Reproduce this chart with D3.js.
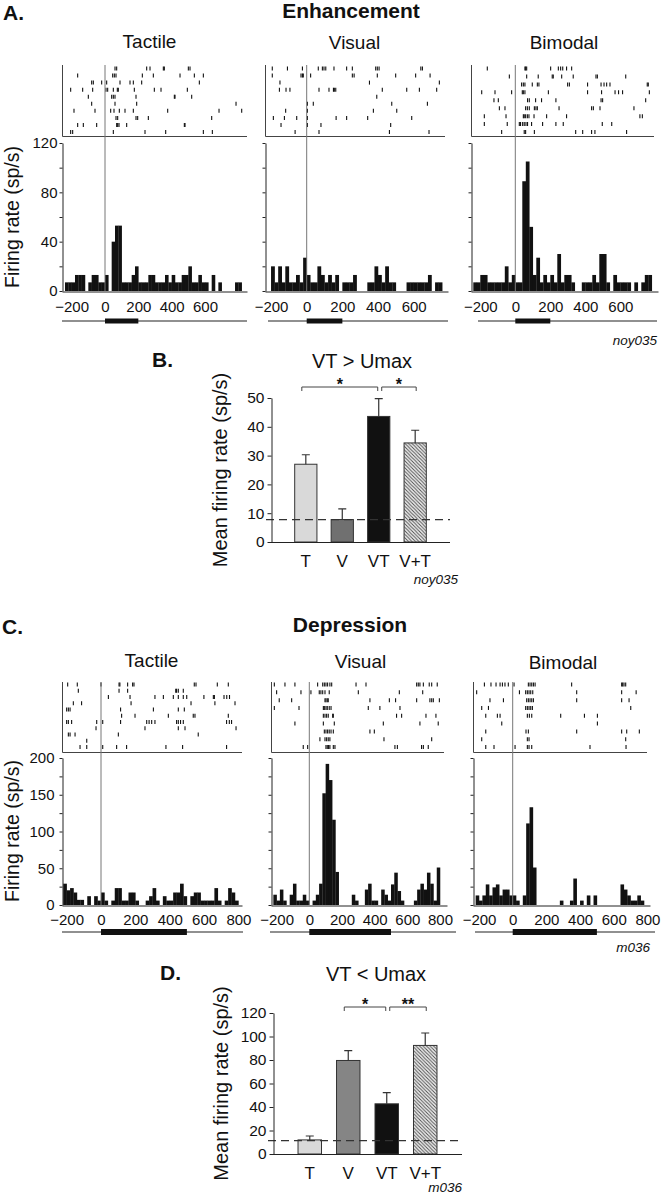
<!DOCTYPE html>
<html><head><meta charset="utf-8">
<script src="https://cdn.jsdelivr.net/npm/d3@7"></script>
<style>body{margin:0;background:#fff}svg{display:block}</style>
</head><body><svg id="fig" width="665" height="1199"></svg>
<script>
// ---------------- DATA ----------------
const BIN_W = 20;                       // ms per histogram bin
const binStartA = -240;                 // first bin (ms), panel A
const binStartC = -220;                 // first bin (ms), panel C
const xTicksA = [-200, 0, 200, 400, 600];
const xTicksC = [-200, 0, 200, 400, 600, 800];
const yLabelsA = [0, 40, 80, 120];
const yLabelsC = [0, 50, 100, 150, 200];
const modalities = ["Tactile", "Visual", "Bimodal"];

// PSTH values (sp/s), panel A (Enhancement)
const tactileA = [7,7,7,13,13,13,0,7,13,13,7,7, 13,0,40,53,53,
  7,7,7,13,20,7,7,7,13,13, 7,7,7,13,7,13,7,7,13,13, 20,7,7,13,7,7,0,13,0,7, 0,0,0,0,7,7];
const visualA = [0,0,20,7,20,7,20,7,7,13,7,27, 13,7,7,20,13,7,13,7,13,0,
  7,7,7,13,0,0,0,7,7,20, 13,7,20,7,7,0,0,0,7,7, 7,7,7,7,13,0,7,7,0,0,0];
const bimodalA = [7,7,13,13,7,7,7,7,7,20,7,13, 7,7,89,105,52,13,27,7,13,7,
  13,7,30,7,13,13,7,0,0,7, 7,7,13,7,30,30,7,0,13,7, 7,7,7,0,7,0,7,13,13,0,0];

// PSTH values (sp/s), panel C (Depression)
const tactileC = [29,20,23,17,7,7,0,12,0,12,6, 17,6,0,6,23,23,6,6,17,17,
  6,0,0,6,12,23,6,0,12,6, 6,17,17,29,12,0,12,17,17,6, 6,6,6,23,6,0,6,23,17,6,0];
const visualC = [14,6,21,6,0,14,29,6,6,14,6, 0,6,14,29,152,192,170,116,45,0,
  0,0,0,14,6,0,0,21,29,6, 6,0,21,14,6,28,44,19,6,0, 0,0,6,21,29,21,44,29,6,51,0];
const bimodalC = [13,6,13,28,13,24,28,13,21,21,13, 13,6,0,13,111,133,51,0,0,0,
  0,0,0,0,6,0,0,6,36,0, 6,0,13,0,13,0,0,0,0,0, 0,0,28,21,13,6,6,13,6,0,0];

// Raster spike times (ms), one array per trial
const rasterTactileA = [
  [60,70,250,270,350,356,500,510],
  [-164,46,56,66,224,290,450,536,590],
  [-80,-70,-20,10,90,150,170,220,566],
  [-206,-134,-74,6,16,50,74,80,176,296,336,494],
  [-100,40,50,60,186,416,420,520],
  [-80,60,190,786],
  [-186,-60,34,54,86,120,170,376,684,820],
  [66,76,186,196,260,640],
  [-164,-130,-50,70,76,84,130,476,480],
  [-206,-194,50,240,364,590,644]];
const rasterVisualA = [
  [-193,-108,-24,65,88,97,107,153,224,256,387,396,406,640,649],
  [-193,-32,-24,-19,22,256,266,396,499,611,692],
  [-150,352,744],
  [-153,-116,-94,69,125,150,155,163,424,561,632,729],
  [393],
  [4,37,477,677],
  [-118,4,374,505],
  [-187,-125,-56,4,165,224,342,589],
  [-144,4,80,471],
  [-65,69,464,686]];
const rasterBimodalA = [
  [-160,55,59,65,202,246,259,271,293,322],
  [-34,65,131,211,217,265,331,461,469,631],
  [36,46,55,97,126,135,299,309,413,490,507,522,541,754,760],
  [-192,-116,-21,40,46,55,189,413,493,570,590,613,766],
  [-122,-97,70,80,116,150,232,490,499,745],
  [-91,-59,59,69,80,109,118,126,250,436,446,484,678],
  [-177,-53,46,51,59,69,78,107,179,293,712,726],
  [-177,-46,23,30,42,51,61,70,93,156,232,274,497,551],
  [-78,51,59,109,345,385,436,455,636]];
const rasterTactileC = [
  [-194,-138,0,105,110,155,184,192,543,553,677,741],
  [-132,105,155,435,440,450,479],
  [43,169,314,363,421,450,479,499,599,654,660,716,732,748],
  [-161,-113,175,524,663,780],
  [-200,-190,-180,114,305,450,485],
  [120,198,392,537,547,741],
  [-200,-190,-171,-25,10,114,266,280,295,314,440,450,463,479,731,747,760],
  [-29,256,450,489,786],
  [-190,-180,-151,101,566],
  [-83],
  [-122,-83,10,91,149,378,475,731]];
const rasterVisualC = [
  [-214,-149,-88,51,82,92,102,112,126,137,286,347,657,667,677,698,734,749,783],
  [-200,-51,10,61,71,82,96,122,300,551,694],
  [-184,-108,96,102,110,116,371,490,528,657,738,749,759,796],
  [-214,-63,86,92,102,110,122,133,361,432,555],
  [86,96,106,116,143,147,534,565,714,775],
  [-88,86,153,453,677,789],
  [92,102,112,122,133,147,371,398],
  [65,96,106,116,126,457,749],
  [-37,-10,102,110,118,126,147,157,524,539,687,698,728]];
const rasterBimodalC = [
  [-168,-129,-99,-75,-61,-46,-26,8,93,103,113,123,133,350,647,653,661,671],
  [-214,40,77,87,97,107,119,380,647,733],
  [-135,-55,83,93,103,113,123,380,647,691],
  [-184,-144,77,87,97,107,117,701],
  [-160,-91,-75,87,99,113,285,426,503],
  [-65,503],
  [-160,79,93,380,647,677,752],
  [-184,87,97,671],
  [-160,-111,14,87,97,113,459,673]];

// Bar charts (B, D)
const barCats = ["T", "V", "VT", "V+T"];
const enhMean = [27, 7.8, 43.6, 34.4];
const enhSem  = [3.3, 3.7, 6.2, 4.4];
const enhRef  = 7.8;
const enhTicks = [0, 10, 20, 30, 40, 50];
const depMean = [12, 79.6, 42.7, 92.4];
const depSem  = [3.3, 8.4, 9.6, 10.6];
const depRef  = 11.4;
const depTicks = [0, 20, 40, 60, 80, 100, 120];
const enhSig = [["T", "VT", "*"], ["VT", "V+T", "*"]];
const depSig = [["V", "VT", "*"], ["VT", "V+T", "**"]];

// ---------------- DRAWING ----------------
const FONT = "'Liberation Sans', Arial, Helvetica, sans-serif";
const svg = d3.select("#fig");
svg.append("rect").attr("width", 665).attr("height", 1199).attr("fill", "#fff");

const defs = svg.append("defs");
const pat = defs.append("pattern").attr("id", "hatch").attr("patternUnits", "userSpaceOnUse")
  .attr("width", 3.5).attr("height", 3.5);
pat.append("rect").attr("width", 3.5).attr("height", 3.5).attr("fill", "#eeeeee");
pat.append("path").attr("d", "M-1,-1 L4.5,4.5 M-1,2.5 L1,4.5 M2.5,-1 L4.5,1")
  .attr("stroke", "#4a4a4a").attr("stroke-width", 0.9);

function txt(x, y, s, o = {}) {
  const t = svg.append("text").attr("x", x).attr("y", y).text(s)
    .attr("font-family", FONT).attr("font-size", o.size || 15)
    .attr("font-weight", o.bold ? "bold" : "normal")
    .attr("font-style", o.italic ? "italic" : "normal")
    .attr("text-anchor", o.anchor || "start").attr("fill", "#111");
  if (o.rotate) t.attr("transform", `rotate(-90,${x},${y})`);
  return t;
}

function styleAxis(g, fs) {
  g.attr("font-family", FONT).attr("font-size", fs);
  g.select(".domain").attr("stroke", "#222");
  g.selectAll(".tick line").attr("stroke", "#222");
  g.selectAll(".tick text").attr("fill", "#111");
}

function psth(cfg, row) {
  const x = d3.scaleLinear().domain([0, 1000]).range([cfg.zero, cfg.zero + 1000 * cfg.k]);
  const y = d3.scaleLinear().domain([0, row.yMax]).range([row.histBottom, row.histTop]);
  const g = svg.append("g");
  const cid = "clip" + Math.round(cfg.zero) + "_" + row.histTop;
  defs.append("clipPath").attr("id", cid).append("rect")
    .attr("x", cfg.left).attr("y", row.rasterTop - 5)
    .attr("width", cfg.right - cfg.left).attr("height", row.histBottom - row.rasterTop + 6);

  // histogram bars
  const bins = cfg.values.map((v, i) => ({t: row.binStart + i * BIN_W, v})).filter(d => d.v > 0);
  g.append("g").attr("clip-path", `url(#${cid})`).selectAll("rect").data(bins).join("rect")
    .attr("x", d => x(d.t)).attr("width", d => x(d.t + BIN_W) - x(d.t) + 0.25)
    .attr("y", d => y(d.v)).attr("height", d => y(0) - y(d.v)).attr("fill", "#111");

  // raster
  const rows = d3.scalePoint().domain(d3.range(cfg.raster.length))
    .range([row.rasterTop + row.rowPadTop, row.rasterBottom - row.rowPadBot]);
  const spikes = [];
  cfg.raster.forEach((tr, i) => tr.forEach(t => spikes.push({t, r: i})));
  g.append("g").attr("clip-path", `url(#${cid})`).selectAll("line").data(spikes).join("line")
    .attr("x1", d => x(d.t)).attr("x2", d => x(d.t))
    .attr("y1", d => rows(d.r) - 2).attr("y2", d => rows(d.r) + 2)
    .attr("stroke", "#111").attr("stroke-width", 1.1);

  // raster frame (L shape)
  g.append("path").attr("d", `M${cfg.left + 0.5},${row.rasterTop} V${row.rasterBottom + 0.5} H${cfg.rasterRight}`)
    .attr("fill", "none").attr("stroke", "#444").attr("stroke-width", 1);

  // zero line
  g.append("line").attr("x1", x(0)).attr("x2", x(0)).attr("y1", row.rasterTop).attr("y2", row.histBottom)
    .attr("stroke", "#777").attr("stroke-width", 1);

  // y axis
  const yAx = d3.axisLeft(y).tickValues(d3.range(0, row.yMax + 0.1, row.yStep))
    .tickSize(3).tickSizeOuter(0).tickPadding(row.yPad)
    .tickFormat(d => cfg.showY && row.yLabels.includes(d) ? d : "");
  const ga = g.append("g").attr("transform", `translate(${cfg.left + 0.5},0)`).call(yAx);
  styleAxis(ga, 15);

  // x axis
  const xa = x.copy().domain([x.invert(cfg.left), x.invert(cfg.right)]).range([cfg.left, cfg.right]);
  const gx = g.append("g").attr("transform", `translate(0,${row.histBottom + 0.5})`)
    .call(d3.axisBottom(xa).tickValues(row.xTicks).tickSize(0).tickSizeOuter(0));
  styleAxis(gx, 15);
  gx.selectAll(".tick text").attr("y", row.labelDy).attr("dy", null);

  // stimulus bar
  g.append("line").attr("x1", cfg.stim[0]).attr("x2", cfg.stim[1])
    .attr("y1", row.stimY).attr("y2", row.stimY).attr("stroke", "#222").attr("stroke-width", 1.2);
  g.append("rect").attr("x", x(0)).attr("width", x(row.stimEnd) - x(0))
    .attr("y", row.stimY - row.stimH / 2).attr("height", row.stimH).attr("fill", "#111");
}

// ---- Panel A ----
const rowA = {rasterTop: 65, rasterBottom: 136, histTop: 143, histBottom: 291, yMax: 120, yStep: 20,
  yLabels: yLabelsA, yPad: 2, xTicks: xTicksA, labelDy: 20, stimY: 321, stimH: 5, stimEnd: 200,
  binStart: binStartA, rowPadTop: 3.5, rowPadBot: 4};
const panelsA = [
  {zero: 105, k: 0.1667, left: 62, right: 247, rasterRight: 247, stim: [62, 247], values: tactileA, raster: rasterTactileA, showY: true},
  {zero: 306.7, k: 0.1783, left: 265, right: 448, rasterRight: 445, stim: [268, 448], values: visualA, raster: rasterVisualA, showY: false},
  {zero: 515.3, k: 0.175, left: 471, right: 658, rasterRight: 654, stim: [478, 657], values: bimodalA, raster: rasterBimodalA, showY: false}];
panelsA.forEach(p => psth(p, rowA));

txt(3, 20, "A.", {size: 21, bold: true});
txt(351, 18, "Enhancement", {size: 21, bold: true, anchor: "middle"});
txt(149.5, 48, modalities[0], {size: 19, anchor: "middle"});
txt(354.5, 49, modalities[1], {size: 19, anchor: "middle"});
txt(564, 49, modalities[2], {size: 19, anchor: "middle"});
txt(19, 217, "Firing rate (sp/s)", {size: 19.5, anchor: "middle", rotate: true});
txt(657, 345, "noy035", {size: 13.5, italic: true, anchor: "end"});

// ---- Panel C ----
const rowC = {rasterTop: 682, rasterBottom: 752, histTop: 758, histBottom: 905, yMax: 200, yStep: 25,
  yLabels: yLabelsC, yPad: 5, xTicks: xTicksC, labelDy: 19, stimY: 932, stimH: 6, stimEnd: 500,
  binStart: binStartC, rowPadTop: 2.5, rowPadBot: 5};
const panelsC = [
  {zero: 101, k: 0.1718, left: 62, right: 242, rasterRight: 242, stim: [62, 243], values: tactileC, raster: rasterTactileC, showY: true},
  {zero: 309.3, k: 0.1634, left: 271, right: 447, rasterRight: 444, stim: [270, 456], values: visualC, raster: rasterVisualC, showY: false},
  {zero: 512.7, k: 0.1684, left: 473, right: 650, rasterRight: 647, stim: [475, 655], values: bimodalC, raster: rasterBimodalC, showY: false}];
panelsC.forEach(p => psth(p, rowC));

txt(2, 634, "C.", {size: 21, bold: true});
txt(350, 632, "Depression", {size: 21, bold: true, anchor: "middle"});
txt(151.5, 667, modalities[0], {size: 19, anchor: "middle"});
txt(360.5, 668, modalities[1], {size: 19, anchor: "middle"});
txt(563, 669, modalities[2], {size: 19, anchor: "middle"});
txt(19, 831, "Firing rate (sp/s)", {size: 19.5, anchor: "middle", rotate: true});
txt(650, 952, "m036", {size: 13.5, italic: true, anchor: "end"});

// ---- Bar panels ----
function barPanel(c) {
  const x = d3.scaleBand().domain(barCats).range([c.left, c.right]).paddingInner(0.39).paddingOuter(0.65);
  const y = d3.scaleLinear().domain([0, c.yMax]).range([c.bottom, c.top]);
  const g = svg.append("g");
  const fills = ["#d9d9d9", c.vColor, "#111", "url(#hatch)"];
  const data = barCats.map((k, i) => ({k, m: c.mean[i], s: c.sem[i], f: fills[i]}));

  g.selectAll("rect.bar").data(data).join("rect").attr("class", "bar")
    .attr("x", d => x(d.k)).attr("width", x.bandwidth())
    .attr("y", d => y(d.m)).attr("height", d => y(0) - y(d.m))
    .attr("fill", d => d.f).attr("stroke", "#333").attr("stroke-width", 1);

  // error bars
  data.forEach(d => {
    const cx = x(d.k) + x.bandwidth() / 2;
    g.append("path").attr("d", `M${cx},${y(d.m)} V${y(d.m + d.s)} M${cx - 4},${y(d.m + d.s)} H${cx + 4}`)
      .attr("stroke", "#333").attr("stroke-width", 1.2).attr("fill", "none");
  });

  // reference dashed line
  g.append("line").attr("x1", c.dashFrom).attr("x2", c.right).attr("y1", y(c.ref)).attr("y2", y(c.ref))
    .attr("stroke", "#333").attr("stroke-width", 1.3).attr("stroke-dasharray", "8,5");

  // axes
  const ya = d3.axisLeft(y).tickValues(c.ticks).tickSize(4).tickSizeOuter(0).tickPadding(3);
  const ga = g.append("g").attr("transform", `translate(${c.left + 0.5},0)`).call(ya);
  styleAxis(ga, 15.5);
  g.append("line").attr("x1", c.left).attr("x2", c.right).attr("y1", c.bottom + 0.5).attr("y2", c.bottom + 0.5)
    .attr("stroke", "#222");

  // category labels
  data.forEach(d => txt(x(d.k) + x.bandwidth() / 2, c.bottom + 25, d.k, {size: 17, anchor: "middle"}));

  // significance brackets
  c.sig.forEach(([a, b, s], i) => {
    const x1 = x(a) + x.bandwidth() / 2 + (i === 0 ? -4 : 3);
    const x2 = x(b) + x.bandwidth() / 2 + (i === 0 ? -1 : 1);
    g.append("path").attr("d", `M${x1},${c.brY + 4} V${c.brY} H${x2} V${c.brY + 4}`)
      .attr("fill", "none").attr("stroke", "#444").attr("stroke-width", 1);
    txt((x1 + x2) / 2, c.brY + 3, s, {size: 16, bold: true, anchor: "middle"});
  });

  txt(c.letterX, c.titleY - 1, c.letter, {size: 21, bold: true});
  txt(c.titleX, c.titleY, c.title, {size: 20, anchor: "middle"});
  txt(c.ylabX, (c.top + c.bottom) / 2, "Mean firing rate (sp/s)", {size: 20, anchor: "middle", rotate: true});
  txt(c.noteX, c.noteY, c.note, {size: 13.5, italic: true, anchor: "end"});
}

barPanel({left: 271, right: 450, top: 398, bottom: 542, yMax: 50, ticks: enhTicks,
  mean: enhMean, sem: enhSem, ref: enhRef, dashFrom: 266, vColor: "#707070", sig: enhSig, brY: 387,
  letter: "B.", letterX: 152, title: "VT > Umax", titleX: 362, titleY: 368, ylabX: 227, noteX: 458, noteY: 584, note: "noy035"});

barPanel({left: 273, right: 462, top: 1013, bottom: 1154, yMax: 120, ticks: depTicks,
  mean: depMean, sem: depSem, ref: depRef, dashFrom: 268, vColor: "#858585", sig: depSig, brY: 1007,
  letter: "D.", letterX: 160, title: "VT < Umax", titleX: 376, titleY: 981, ylabX: 227.5, noteX: 462, noteY: 1192, note: "m036"});
</script>
</body></html>
